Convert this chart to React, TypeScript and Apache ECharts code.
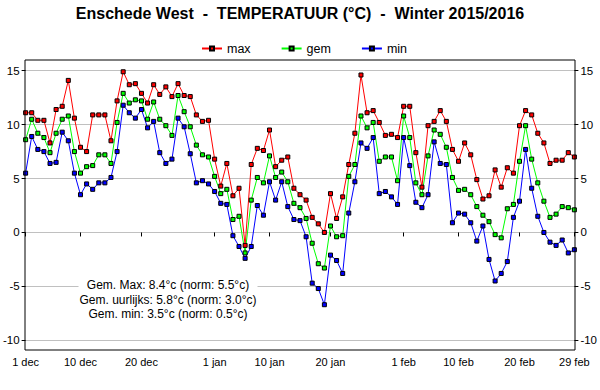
import React, { useEffect, useRef } from 'react';
import * as echarts from 'echarts';

const months = [
  { name: 'dec', days: 31 },
  { name: 'jan', days: 31 },
  { name: 'feb', days: 29 },
];
const categories: string[] = [];
months.forEach((m) => {
  for (let d = 1; d <= m.days; d++) categories.push(`${d} ${m.name}`);
});

const tickLabels = ['1 dec', '10 dec', '20 dec', '1 jan', '10 jan', '20 jan', '1 feb', '10 feb', '20 feb', '29 feb'];

const maxT = [
  11.1, 11.1, 10.4, 10.4, 8.3, 11.4, 11.7, 14.1, 10.6, 7.9,
  7.5, 10.9, 10.9, 10.9, 8.5, 12.2, 14.9, 13.7, 13.8, 12.9,
  12.0, 13.7, 12.8, 13.5, 12.6, 13.8, 12.7, 12.6, 10.9, 10.3,
  10.4, 6.8, 4.3, 6.4, 3.4, 4.1, -1.2, 6.3, 7.8, 7.6,
  9.5, 6.1, 6.7, 7.0, 4.1, 3.5, 3.0, 1.4, 0.8, 0.0,
  3.6, 1.3, 3.3, 6.3, 9.2, 14.6, 11.1, 11.3, 10.2, 9.0,
  9.1, 8.8, 11.7, 11.7, 7.4, 4.2, 9.9, 10.3, 11.3, 10.3,
  7.7, 6.6, 8.3, 7.2, 4.9, 3.1, 3.4, 5.8, 4.2, 6.0,
  5.5, 9.9, 11.3, 10.9, 9.2, 8.3, 6.4, 6.7, 6.7, 7.4,
  7.0,
];

const gemT = [
  8.6, 10.5, 9.2, 8.8, 7.4, 9.2, 10.5, 10.8, 7.5, 5.5,
  6.1, 6.2, 7.2, 7.2, 6.4, 10.2, 12.9, 12.0, 12.3, 12.2,
  10.5, 12.1, 10.5, 9.9, 9.0, 12.7, 11.2, 9.8, 8.1, 7.2,
  7.0, 5.2, 3.6, 4.0, 1.2, 1.5, -1.9, 3.0, 5.1, 4.6,
  7.1, 5.1, 5.6, 4.7, 2.7, 2.3, 1.3, -1.0, -2.9, -3.3,
  0.6, -0.4, -0.3, 5.2, 6.3, 10.8, 9.7, 10.2, 6.6, 7.0,
  7.0, 4.8, 10.8, 8.8, 4.6, 3.5, 7.1, 9.5, 9.1, 7.9,
  5.1, 3.9, 4.0, 3.5, 2.4, 1.6, 1.0, -0.2, -0.5, 2.2,
  2.6, 6.6, 9.9, 6.8, 4.6, 2.9, 1.4, 1.7, 2.4, 2.3,
  2.1,
];

const minT = [
  5.5, 8.9, 7.7, 7.5, 6.4, 6.5, 9.3, 8.5, 5.5, 3.5,
  4.5, 4.0, 4.6, 4.6, 5.1, 7.5, 11.8, 11.1, 10.6, 11.4,
  9.7, 10.3, 7.4, 6.4, 6.8, 10.6, 9.8, 7.3, 4.6, 4.8,
  4.5, 3.8, 2.7, 2.6, -0.3, -1.3, -2.4, -1.3, 2.5, 1.6,
  4.7, 3.0, 4.7, 2.4, 1.2, 1.1, -0.4, -4.7, -5.2, -6.7,
  -2.1, -2.6, -3.8, 1.8, 4.7, 8.3, 7.8, 8.8, 3.6, 3.8,
  3.3, 2.6, 8.8, 6.2, 2.8, 2.3, 3.5, 8.4, 6.4, 6.3,
  0.9, 1.8, 1.7, 0.9, -0.8, 0.6, -2.5, -4.5, -3.8, -2.7,
  1.4, 2.9, 7.7, 4.1, 1.5, 0.0, -0.9, -1.2, -0.7, -1.9,
  -1.6,
];

const summaryLines = [
  'Gem. Max: 8.4°c (norm: 5.5°c)',
  'Gem. uurlijks: 5.8°c (norm: 3.0°c)',
  'Gem. min: 3.5°c (norm: 0.5°c)',
];

const FONT = '"Liberation Sans", Arial, sans-serif';

function mkSeries(name: string, data: number[], color: string) {
  return {
    name,
    type: 'line',
    data,
    symbol: 'rect',
    symbolSize: 4,
    showAllSymbol: true,
    clip: false,
    lineStyle: { color, width: 1 },
    itemStyle: { color, borderColor: '#000', borderWidth: 1 },
    emphasis: { disabled: true },
  };
}

export default function App() {
  const ref = useRef<HTMLDivElement>(null);
  useEffect(() => {
    if (!ref.current) return;
    const chart = echarts.init(ref.current, undefined, { renderer: 'svg' });
    const isTick = (_i: number, v: string) => tickLabels.includes(v);
    const yCommon = {
      type: 'value',
      min: -10,
      max: 15,
      interval: 5,
      axisLine: { show: false },
      axisTick: { show: true, length: 4, lineStyle: { color: '#000', width: 1 } },
      axisLabel: { color: '#000', fontSize: 11.5, fontFamily: FONT, margin: 6 },
    };
    chart.setOption({
      animation: false,
      backgroundColor: '#fff',
      textStyle: { fontFamily: FONT },
      title: {
        text: 'Enschede West  -  TEMPERATUUR (°C)  -  Winter 2015/2016',
        left: 'center',
        top: 0,
        textStyle: { fontFamily: FONT, fontSize: 16, fontWeight: 'bold', color: '#000' },
      },
      legend: {
        left: 196,
        top: 37,
        itemWidth: 20,
        itemHeight: 5,
        itemGap: 30,
        data: ['max', 'gem', 'min'],
        textStyle: { fontFamily: FONT, fontSize: 12.5, color: '#000' },
      },
      grid: { left: 25, right: 25, top: 70.7, bottom: 49.7 },
      xAxis: {
        type: 'category',
        data: categories,
        boundaryGap: false,
        offset: 9.7,
        axisLine: { show: false },
        axisTick: { show: true, length: 4, interval: isTick, lineStyle: { color: '#000' } },
        axisLabel: { interval: isTick, fontSize: 11, color: '#000', fontFamily: FONT, margin: 6 },
        splitLine: { show: false },
      },
      yAxis: [
        {
          ...yCommon,
          position: 'left',
          splitLine: { show: true, lineStyle: { color: '#c0c0c0', width: 1 } },
        },
        {
          ...yCommon,
          position: 'right',
          splitLine: { show: false },
        },
      ],
      series: [mkSeries('max', maxT, '#ff0000'), mkSeries('gem', gemT, '#00ff00'), mkSeries('min', minT, '#0000ff')],
      graphic: [
        {
          type: 'rect',
          silent: true,
          z: 100,
          shape: { x: 25, y: 60, width: 550, height: 290 },
          style: { fill: 'none', stroke: '#000', lineWidth: 1 },
        },
        {
          type: 'text',
          silent: true,
          z: 50,
          x: 168,
          y: 278,
          style: {
            text: summaryLines.join('\n'),
            fill: '#000',
            fontSize: 12,
            fontFamily: FONT,
            align: 'center',
            verticalAlign: 'top',
            lineHeight: 14.5,
            backgroundColor: '#fff',
            padding: [0, 1],
          },
        },
      ],
    });
    return () => chart.dispose();
  }, []);
  return <div ref={ref} style={{ position: 'fixed', left: 0, top: 0, width: 600, height: 390 }} />;
}
